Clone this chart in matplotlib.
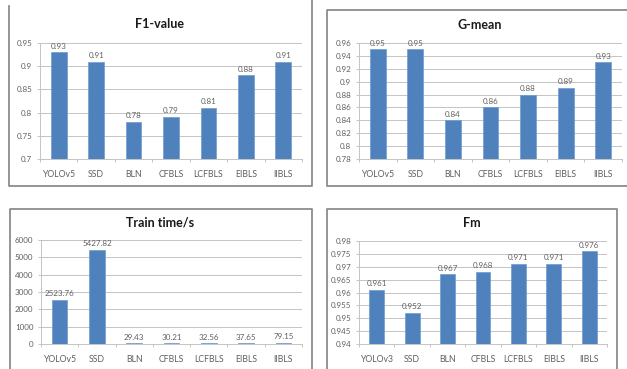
import numpy as np
import matplotlib.pyplot as plt
from matplotlib.lines import Line2D
from matplotlib.ticker import FixedLocator, FuncFormatter

plt.rcParams['font.family'] = ['Lato', 'DejaVu Sans']

W, H = 627, 369

models = ['YOLOv5', 'SSD', 'BLN', 'CFBLS', 'LCFBLS', 'EIBLS', 'IIBLS']
models_fm = ['YOLOv3', 'SSD', 'BLN', 'CFBLS', 'LCFBLS', 'EIBLS', 'IIBLS']
f1_value = [0.93, 0.91, 0.78, 0.79, 0.81, 0.88, 0.91]
g_mean = [0.95, 0.95, 0.84, 0.86, 0.88, 0.89, 0.93]
train_time = [2523.76, 5427.82, 29.43, 30.21, 32.56, 37.65, 79.15]
fm = [0.961, 0.952, 0.967, 0.968, 0.971, 0.971, 0.976]

f1_ticks = [0.7, 0.75, 0.8, 0.85, 0.9, 0.95]
gm_ticks = [0.78, 0.8, 0.82, 0.84, 0.86, 0.88, 0.9, 0.92, 0.94, 0.96]
tt_ticks = [0, 1000, 2000, 3000, 4000, 5000, 6000]
fm_ticks = [0.94, 0.945, 0.95, 0.955, 0.96, 0.965, 0.97, 0.975, 0.98]

BAR = '#4f81bd'
GRID = '#c4c4c4'
TXT = '#606060'
FRAME = '#8c8c8c'

fig = plt.figure(figsize=(W / 100, H / 100), dpi=100)


def px_axes(left, right, top, bottom):
    return fig.add_axes([left / W, 1 - bottom / H, (right - left) / W, (bottom - top) / H])


def frame_line(xs, ys):
    fig.add_artist(Line2D([x / W for x in xs], [1 - y / H for y in ys],
                          color=FRAME, lw=1.3, transform=fig.transFigure))


def fmt(v, pos=None):
    return '%g' % round(v, 4)


def bar_panel(ax, cats, vals, ticks, labels, title, title_xy):
    x = np.arange(len(cats))
    ax.bar(x, vals, width=0.42, color=BAR, edgecolor='#6f9bd0', linewidth=0.5, zorder=3)
    for xi, v, s in zip(x, vals, labels):
        ax.annotate(s, (xi, v), xytext=(0, 2), textcoords='offset points',
                    ha='center', va='bottom', fontsize=5.8, color=TXT, zorder=4)
    ax.set_xlim(-0.5, len(cats) - 0.5)
    ax.set_ylim(ticks[0], ticks[-1])
    ax.yaxis.set_major_locator(FixedLocator(ticks))
    ax.yaxis.set_major_formatter(FuncFormatter(fmt))
    ax.set_xticks(x)
    ax.set_xticklabels(cats)
    ax.set_xticks(np.arange(len(cats) + 1) - 0.5, minor=True)
    ax.tick_params(axis='x', which='major', length=0, pad=8, labelsize=6.3, labelcolor=TXT)
    ax.tick_params(axis='x', which='minor', length=2.5, color=GRID, width=0.7)
    ax.tick_params(axis='y', length=2.5, color=GRID, width=0.7, pad=3, labelsize=5.8,
                   labelcolor=TXT)
    ax.grid(axis='y', color=GRID, lw=0.7, zorder=0)
    for side in ('top', 'right'):
        ax.spines[side].set_visible(False)
    for side in ('left', 'bottom'):
        ax.spines[side].set_color(GRID)
        ax.spines[side].set_linewidth(0.7)
    fig.text(title_xy[0] / W, 1 - title_xy[1] / H, title, ha='center', va='center',
             fontsize=9, fontweight='bold', color='#1a1a1a')


# panel frames
frame_line([9, 9, 312, 312], [6, 186, 186, 0])
frame_line([640, 327, 327, 640], [10, 10, 186, 186])
frame_line([10, 10, 312, 312], [380, 209, 209, 380])
frame_line([327, 327, 617, 617], [380, 209, 209, 380])

ax1 = px_axes(40, 302, 43, 159)
bar_panel(ax1, models, f1_value, f1_ticks, ['%.2f' % v for v in f1_value],
          'F1-value', (160, 24))

ax2 = px_axes(359, 622, 43, 159)
bar_panel(ax2, models, g_mean, gm_ticks, ['%.2f' % v for v in g_mean],
          'G-mean', (480, 25))

ax3 = px_axes(41, 302, 240, 344)
bar_panel(ax3, models, train_time, tt_ticks, ['%.2f' % v for v in train_time],
          'Train time/s', (160, 223))

ax4 = px_axes(359, 607, 241, 344)
bar_panel(ax4, models_fm, fm, fm_ticks, ['%.3f' % v for v in fm],
          'Fm', (472, 223))

fig.savefig('out.png', dpi=100)
